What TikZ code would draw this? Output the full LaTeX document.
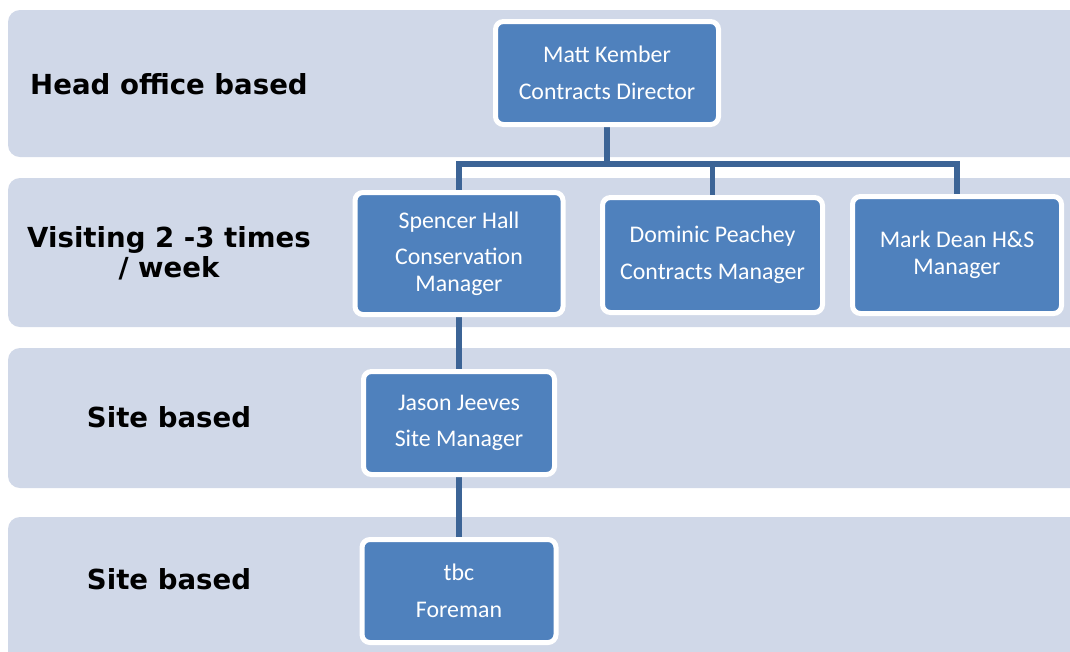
\documentclass[tikz,border=0pt]{standalone}
\usepackage{fontspec}
\setmainfont{Carlito}
\newfontfamily\labelfont{DejaVu Sans}
\definecolor{bandcol}{RGB}{208,216,232}
\definecolor{boxblue}{RGB}{79,129,189}
\definecolor{conncol}{RGB}{60,100,150}
\pgfdeclarelayer{back}
\pgfdeclarelayer{lines}
\pgfsetlayers{back,lines,main}
\tikzset{
  band/.style={fill=bandcol, rounded corners=9pt},
  orgbox/.style={fill=boxblue, draw=white, line width=3.75pt, rounded corners=6pt,
    text=white, align=center, inner sep=0pt,
    font=\fontsize{17.9}{20}\selectfont},
  lbl/.style={align=center, inner sep=0pt,
    font=\labelfont\bfseries\fontsize{20.7}{22.5}\selectfont},
  conn/.style={draw=conncol, line width=4.3pt, line join=miter}
}
\begin{document}
\begin{tikzpicture}[x=0.75pt,y=-0.75pt]
\useasboundingbox (0,0) rectangle (1070,651);
\clip (0,0) rectangle (1070,651);
\begin{pgfonlayer}{back}
\fill[white] (0,0) rectangle (1070,651);
\fill[band] (8,10) rectangle (1110,157);
\fill[band] (8,178) rectangle (1110,327);
\fill[band] (8,348) rectangle (1110,488);
\fill[band] (8,517) rectangle (1110,690);
\end{pgfonlayer}

\node[lbl] (l1) at (169,84) {Head office based};
\node[lbl] (l2) at (169,253) {Visiting 2 -3 times\\/ week};
\node[lbl] (l3) at (169,417) {Site based};
\node[lbl] (l4) at (169,579) {Site based};

\node[orgbox, minimum width=167.25pt, minimum height=77.25pt] (matt) at (607,73)
  {Matt Kember\\[7.4pt]Contracts Director};
\node[orgbox, minimum width=156pt, minimum height=91.5pt] (spencer) at (459,253.5)
  {Spencer Hall\\[7.4pt]Conservation\\Manager};
\node[orgbox, minimum width=165pt, minimum height=86.25pt] (dominic) at (712.5,255)
  {Dominic Peachey\\[7.4pt]Contracts Manager};
\node[orgbox, minimum width=156.75pt, minimum height=87.75pt] (mark) at (957,255)
  {Mark Dean H\&S\\Manager};
\node[orgbox, minimum width=143.25pt, minimum height=77.25pt] (jason) at (459,423)
  {Jason Jeeves\\[7.4pt]Site Manager};
\node[orgbox, minimum width=145.5pt, minimum height=77.25pt] (tbc) at (459,591)
  {tbc\\[7.4pt]Foreman};

\coordinate (bus) at (607,164);
\begin{pgfonlayer}{lines}
\draw[conn] (matt.south) -- (matt.south |- bus);
\draw[conn] (spencer.north) -- (spencer.north |- bus) -- (mark.north |- bus) -- (mark.north);
\draw[conn] (dominic.north |- bus) -- (dominic.north);
\draw[conn] (spencer.south) -- (jason.north);
\draw[conn] (jason.south) -- (tbc.north);
\end{pgfonlayer}
\end{tikzpicture}
\end{document}
